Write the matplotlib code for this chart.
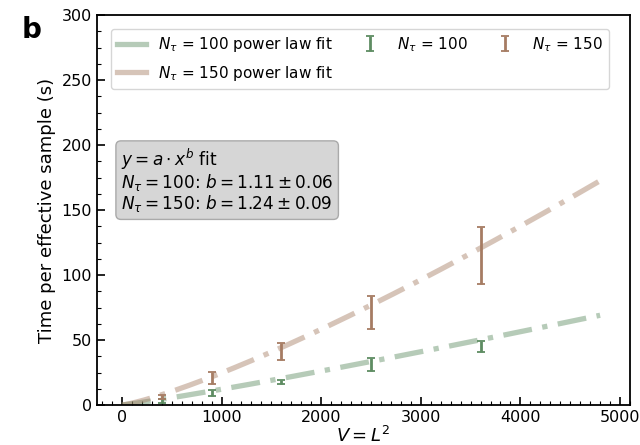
import numpy as np
import matplotlib
matplotlib.use("Agg")
import matplotlib.pyplot as plt
from matplotlib.ticker import MultipleLocator
from matplotlib.lines import Line2D

# Data
V = [400, 900, 1600, 2500, 3600]
t100 = [3.0, 9.2, 17.6, 31.0, 45.0]
e100 = [1.6, 2.3, 1.7, 4.8, 4.3]
t150 = [6.2, 21.0, 41.0, 71.0, 115.0]
e150 = [1.8, 4.5, 6.4, 12.8, 22.0]

# Power-law fit parameters y = a * x^b
a100, b100 = 0.00566, 1.11
a150, b150 = 0.00470, 1.24
fit_xmax = 4800

c_green = "#5e8c62"
c_brown = "#a67c63"

fig = plt.figure(figsize=(6.4, 4.45), dpi=100)
ax = fig.add_axes([97/640, 40/445, (630-97)/640, (405-15)/445])

xf = np.linspace(0, fit_xmax, 300)
ax.plot(xf, a100 * xf**b100, color=c_green, alpha=0.45, lw=3.8,
        dashes=(5.5, 2, 1, 2), solid_capstyle="butt")
ax.plot(xf, a150 * xf**b150, color=c_brown, alpha=0.45, lw=3.8,
        dashes=(5.5, 2, 1, 2), solid_capstyle="butt")

eb100 = ax.errorbar(V, t100, yerr=e100, fmt="none", ecolor=c_green,
                    elinewidth=2.0, capsize=3, capthick=1.3)
eb150 = ax.errorbar(V, t150, yerr=e150, fmt="none", ecolor=c_brown,
                    elinewidth=2.0, capsize=3, capthick=1.3)

h1 = Line2D([], [], color=c_green, alpha=0.45, lw=3.8)
h2 = Line2D([], [], color=c_brown, alpha=0.45, lw=3.8)
ax.legend([h1, h2, eb100, eb150],
          [r"$N_\tau$ = 100 power law fit", r"$N_\tau$ = 150 power law fit",
           r"$N_\tau$ = 100", r"$N_\tau$ = 150"],
          ncol=3, loc="upper left", fontsize=11, frameon=True,
          borderaxespad=0.9, labelspacing=0.65,
          columnspacing=1.5, handlelength=1.9)

ax.text(0.045, 0.575,
        "$y = a \\cdot x^b$ fit\n$N_\\tau = 100$: $b = 1.11 \\pm 0.06$\n$N_\\tau = 150$: $b = 1.24 \\pm 0.09$",
        transform=ax.transAxes, fontsize=12.2, va="center", ha="left",
        linespacing=1.0,
        bbox=dict(boxstyle="round,pad=0.3", facecolor="#d6d6d6", edgecolor="#aaaaaa"))

ax.set_xlim(-250, 5100)
ax.set_ylim(0, 300)
ax.xaxis.set_major_locator(MultipleLocator(1000))
ax.xaxis.set_minor_locator(MultipleLocator(100))
ax.yaxis.set_major_locator(MultipleLocator(50))
ax.yaxis.set_minor_locator(MultipleLocator(12.5))
ax.tick_params(which="both", direction="in", labelsize=11.5)
ax.tick_params(which="major", length=6, width=1.2)
ax.tick_params(which="minor", length=3, width=0.8)
for s in ax.spines.values():
    s.set_linewidth(1.3)

ax.set_xlabel("$V = L^2$", fontsize=13, labelpad=1)
ax.set_ylabel("Time per effective sample (s)", fontsize=13)

fig.text(22/640, 1 - 30/445, "b", fontsize=20, fontweight="bold", va="center")

fig.savefig("out.png", dpi=100)
